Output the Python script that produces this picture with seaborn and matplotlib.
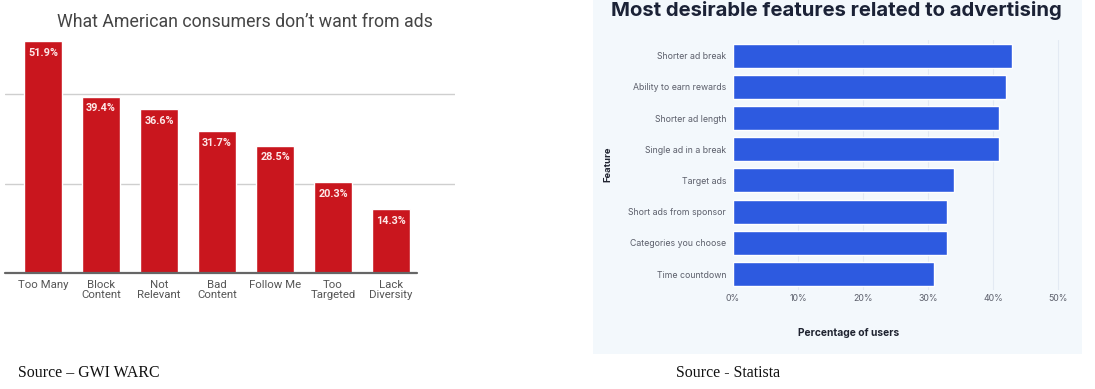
import matplotlib
matplotlib.use("Agg")
import matplotlib.pyplot as plt
import seaborn as sns
import pandas as pd
from matplotlib.patches import Rectangle

# ---- data ----
left_title = "What American consumers don\u2019t want from ads"
left_categories = ["Too Many", "Block\nContent", "Not\nRelevant", "Bad\nContent",
                   "Follow Me", "Too\nTargeted", "Lack\nDiversity"]
left_values = [51.9, 39.4, 36.6, 31.7, 28.5, 20.3, 14.3]

right_title = "Most desirable features related to advertising"
right_features = ["Shorter ad break", "Ability to earn rewards", "Shorter ad length",
                  "Single ad in a break", "Target ads", "Short ads from sponsor",
                  "Categories you choose", "Time countdown"]
right_values = [43, 42, 41, 41, 34, 33, 33, 31]
right_ticks = [0, 10, 20, 30, 40, 50]

sns.set_theme(style="white")
plt.rcParams['font.family'] = ['Roboto', 'DejaVu Sans']

W, H = 1095, 389
fig = plt.figure(figsize=(W / 100, H / 100), dpi=100)
fig.patch.set_facecolor("white")

def fr(x0, y0, x1, y1):
    # pixel box (top-left origin) -> figure fraction rect
    return [x0 / W, 1 - y1 / H, (x1 - x0) / W, (y1 - y0) / H]

# ---------------- left chart ----------------
red = "#c9161e"
axL = fig.add_axes(fr(5, 27, 455, 273))
dfL = pd.DataFrame({"cat": left_categories, "val": left_values})
sns.barplot(data=dfL, x="cat", y="val", color=red, width=0.655, ax=axL,
            saturation=1, zorder=3)
axL.set_xlim(-0.655, 7.103)
axL.set_ylim(0, 55)
for g in [20, 40]:
    axL.axhline(g, color="#cfcfcf", lw=1, zorder=1)
axL.axhline(0, xmin=0, xmax=(417 - 5) / 450, color="#666666", lw=1.6, zorder=4, clip_on=False)
for s in axL.spines.values():
    s.set_visible(False)
axL.set_yticks([])
axL.set_xlabel("")
axL.set_ylabel("")
axL.tick_params(axis="x", length=0, pad=5, labelsize=8.2, labelcolor="#555555")
for lbl in axL.get_xticklabels():
    lbl.set_linespacing(0.95)
for i, v in enumerate(left_values):
    axL.text(i, v - 1.5, f"{v:.1f}%", ha="center", va="top", color="#fde8e8",
             fontsize=7.8, fontweight="bold", zorder=5)
fig.text(245 / W, 1 - 22 / H, left_title, ha="center", va="center",
         fontsize=12.8, color="#454545")

# ---------------- right chart ----------------
panel = Rectangle((593 / W, 1 - 354 / H), (1082 - 593) / W, 354 / H,
                  transform=fig.transFigure, facecolor="#f3f8fc", edgecolor="none", zorder=-5)
fig.patches.append(panel)

blue = "#2d5ae0"
axR = fig.add_axes(fr(733, 40, 1064.5, 289.6))
axR.set_facecolor("none")
axR.set_zorder(2)
dfR = pd.DataFrame({"feat": right_features, "val": right_values})
sns.barplot(data=dfR, y="feat", x="val", color=blue, width=0.77, ax=axR,
            saturation=1, orient="h", zorder=3)
axR.set_xlim(0, 51)
axR.set_ylim(7.5, -0.5)
axR.set_xticks(right_ticks)
axR.set_xticklabels([f"{t}%" for t in right_ticks])
for t in right_ticks[1:]:
    axR.axvline(t, color="#e3eaf3", lw=0.8, zorder=1)
for s in axR.spines.values():
    s.set_visible(False)
axR.tick_params(axis="both", length=0, labelsize=6.3, labelcolor="#5c5f6b")
axR.tick_params(axis="y", pad=5)
axR.tick_params(axis="x", pad=3)
for lbl in axR.get_xticklabels() + axR.get_yticklabels():
    lbl.set_family(["Inter", "DejaVu Sans"])
axR.set_xlabel("")
axR.set_ylabel("")
fig.text(849 / W, 1 - 333 / H, "Percentage of users", ha="center", va="center",
         fontsize=7.4, fontweight="bold", color="#1f2330", family=["Inter", "DejaVu Sans"])
fig.text(608 / W, 1 - 164 / H, "Feature", ha="center", va="center", rotation=90,
         fontsize=6.8, fontweight="bold", color="#1f2330", family=["Inter", "DejaVu Sans"])
fig.text(836 / W, 1 - 1 / H, right_title, ha="center", va="top",
         fontsize=14.6, fontweight="bold", color="#1b2236", family=["Inter", "DejaVu Sans"])

# ---------------- sources ----------------
fig.text(18 / W, 1 - 373 / H, "Source \u2013 GWI WARC", ha="left", va="center",
         fontsize=11.4, color="#111111", family=["Liberation Serif", "DejaVu Serif"])
fig.text(676 / W, 1 - 373 / H, "Source - Statista", ha="left", va="center",
         fontsize=11.4, color="#111111", family=["Liberation Serif", "DejaVu Serif"])

fig.savefig("out.png", dpi=100, facecolor="white")
